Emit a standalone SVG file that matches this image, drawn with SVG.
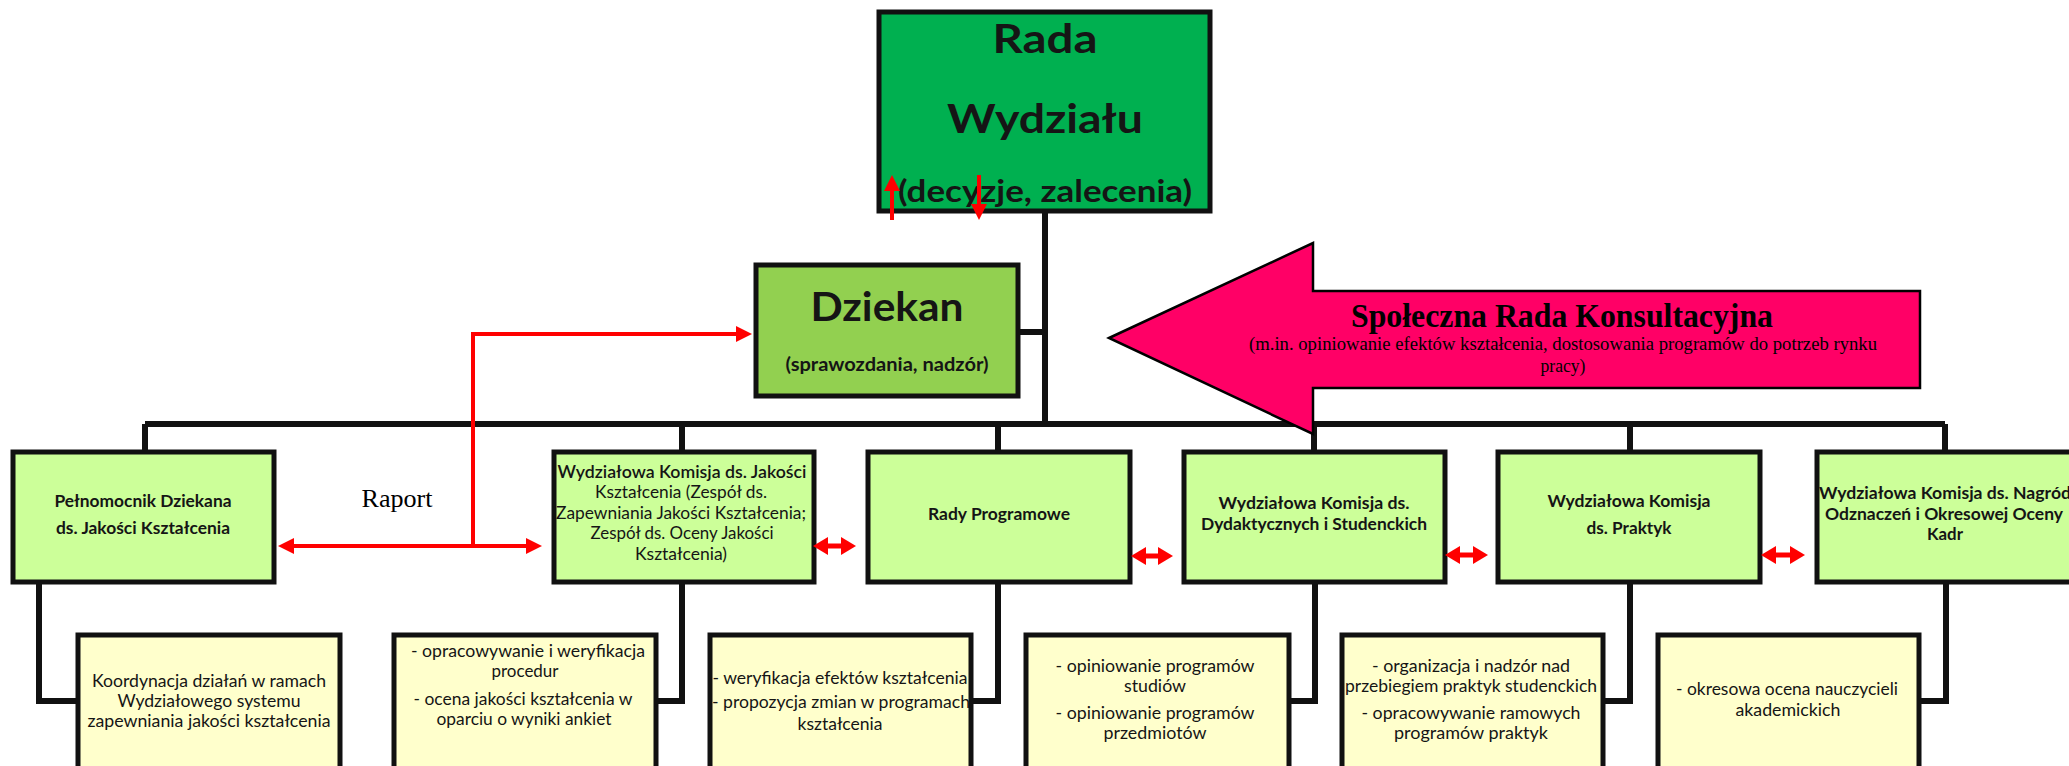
<svg xmlns="http://www.w3.org/2000/svg" width="2069" height="766" viewBox="0 0 2069 766">
<style>
.box{stroke:#111;stroke-width:5}
.rada{fill:#00B050}
.dz{fill:#92D050}
.lvl{fill:#CCFF99}
.sub{fill:#FFFFCC}
.ln{fill:none;stroke:#111;stroke-width:6}
.red{fill:none;stroke:#FF0000;stroke-width:4}
.reds{fill:none;stroke:#FF0000;stroke-width:5}
text{font-family:Lato,"Open Sans","Liberation Sans",sans-serif;fill:#151515;text-anchor:middle}
.big{font-size:40px;font-weight:bold}
.mid{font-size:30px;font-weight:bold}
.ttl{font-size:17px;font-weight:bold}
.txt{font-size:17px}
.serif{font-family:"Liberation Serif","Times New Roman",serif;fill:#000}
</style>
<defs>
<marker id="ah" markerUnits="userSpaceOnUse" markerWidth="16" markerHeight="16" refX="8" refY="8" orient="auto-start-reverse"><path d="M0,0 L16,8 L0,16 z" fill="#FF0000"/></marker>
<marker id="ahs" markerUnits="userSpaceOnUse" markerWidth="15" markerHeight="18" refX="7" refY="9" orient="auto-start-reverse"><path d="M0,0 L15,9 L0,18 z" fill="#FF0000"/></marker>
</defs>

<g id="rada">
<rect class="box rada" x="879" y="12" width="331" height="199"/>
<text class="big" x="1045" y="53" textLength="105" lengthAdjust="spacingAndGlyphs">Rada</text>
<text class="big" x="1045" y="133" font-size="41" textLength="196" lengthAdjust="spacingAndGlyphs">Wydziału</text>
<text class="mid" x="1045" y="202" font-weight="600" textLength="294" lengthAdjust="spacingAndGlyphs">(decyzje, zalecenia)</text>
</g>

<g id="dziekan">
<rect class="box dz" x="756" y="265" width="262" height="131"/>
<text class="big" x="887" y="321" font-size="39" textLength="153" lengthAdjust="spacingAndGlyphs">Dziekan</text>
<text x="887" y="371" font-size="18" font-weight="bold" textLength="203" lengthAdjust="spacingAndGlyphs">(sprawozdania,  nadzór)</text>
</g>

<g id="raport">
<text class="serif" x="397" y="507" font-size="26" textLength="71" lengthAdjust="spacingAndGlyphs">Raport</text>
</g>

<g id="pelnomocnik">
<rect class="box lvl" x="13" y="452" width="261" height="130"/>
<text class="ttl" x="143" y="507" textLength="177" lengthAdjust="spacingAndGlyphs">Pełnomocnik Dziekana</text>
<text class="ttl" x="143" y="534" textLength="174" lengthAdjust="spacingAndGlyphs">ds. Jakości Kształcenia</text>
</g>

<g id="wkj">
<rect class="box lvl" x="554" y="452" width="260" height="130"/>
<text class="txt" x="682" y="478" font-weight="600" textLength="249" lengthAdjust="spacingAndGlyphs">Wydziałowa Komisja ds. Jakości</text>
<text class="txt" x="681" y="498" textLength="172" lengthAdjust="spacingAndGlyphs">Kształcenia (Zespół ds.</text>
<text class="txt" x="681" y="519" textLength="250" lengthAdjust="spacingAndGlyphs">Zapewniania Jakości Kształcenia;</text>
<text class="txt" x="682" y="539" textLength="183" lengthAdjust="spacingAndGlyphs">Zespół ds. Oceny Jakości</text>
<text class="txt" x="681" y="560" textLength="92" lengthAdjust="spacingAndGlyphs">Kształcenia)</text>
</g>

<g id="rady">
<rect class="box lvl" x="868" y="452" width="262" height="130"/>
<text class="ttl" x="999" y="520" textLength="142" lengthAdjust="spacingAndGlyphs">Rady Programowe</text>
</g>

<g id="wkds">
<rect class="box lvl" x="1184" y="452" width="261" height="130"/>
<text class="ttl" x="1314" y="509" textLength="191" lengthAdjust="spacingAndGlyphs">Wydziałowa Komisja ds.</text>
<text class="ttl" x="1314" y="530" textLength="226" lengthAdjust="spacingAndGlyphs">Dydaktycznych i Studenckich</text>
</g>

<g id="praktyk">
<rect class="box lvl" x="1498" y="452" width="262" height="130"/>
<text class="ttl" x="1629" y="507" textLength="163" lengthAdjust="spacingAndGlyphs">Wydziałowa Komisja</text>
<text class="ttl" x="1629" y="534" textLength="85" lengthAdjust="spacingAndGlyphs">ds. Praktyk</text>
</g>

<g id="nagrod">
<rect class="box lvl" x="1817" y="452" width="260" height="130"/>
<text class="ttl" x="1945" y="499" textLength="252" lengthAdjust="spacingAndGlyphs">Wydziałowa Komisja ds. Nagród</text>
<text class="ttl" x="1944" y="520" textLength="238" lengthAdjust="spacingAndGlyphs">Odznaczeń i  Okresowej Oceny</text>
<text class="ttl" x="1945" y="540" textLength="36" lengthAdjust="spacingAndGlyphs">Kadr</text>
</g>

<g id="sub1">
<rect class="box sub" x="78" y="635" width="262" height="150"/>
<text class="txt" x="209" y="687" textLength="234" lengthAdjust="spacingAndGlyphs">Koordynacja działań w ramach</text>
<text class="txt" x="209" y="707" textLength="183" lengthAdjust="spacingAndGlyphs">Wydziałowego systemu</text>
<text class="txt" x="209" y="727" textLength="243" lengthAdjust="spacingAndGlyphs">zapewniania jakości kształcenia</text>
</g>

<g id="sub2">
<rect class="box sub" x="394" y="635" width="262" height="150"/>
<text class="txt" x="528" y="657" textLength="234" lengthAdjust="spacingAndGlyphs">- opracowywanie i weryfikacja</text>
<text class="txt" x="525" y="677" textLength="67" lengthAdjust="spacingAndGlyphs">procedur</text>
<text class="txt" x="523" y="705" textLength="219" lengthAdjust="spacingAndGlyphs">- ocena jakości kształcenia w</text>
<text class="txt" x="524" y="725" textLength="175" lengthAdjust="spacingAndGlyphs">oparciu o wyniki ankiet</text>
</g>

<g id="sub3">
<rect class="box sub" x="710" y="635" width="261" height="150"/>
<text class="txt" x="840" y="684" textLength="255" lengthAdjust="spacingAndGlyphs">-  weryfikacja efektów kształcenia</text>
<text class="txt" x="841" y="708" textLength="258" lengthAdjust="spacingAndGlyphs">- propozycja zmian w programach</text>
<text class="txt" x="840" y="730" textLength="85" lengthAdjust="spacingAndGlyphs">kształcenia</text>
</g>

<g id="sub4">
<rect class="box sub" x="1026" y="635" width="263" height="150"/>
<text class="txt" x="1155" y="672" textLength="199" lengthAdjust="spacingAndGlyphs">- opiniowanie programów</text>
<text class="txt" x="1155" y="692" textLength="62" lengthAdjust="spacingAndGlyphs">studiów</text>
<text class="txt" x="1155" y="719" textLength="199" lengthAdjust="spacingAndGlyphs">- opiniowanie programów</text>
<text class="txt" x="1155" y="739" textLength="103" lengthAdjust="spacingAndGlyphs">przedmiotów</text>
</g>

<g id="sub5">
<rect class="box sub" x="1342" y="635" width="261" height="150"/>
<text class="txt" x="1471" y="672" textLength="198" lengthAdjust="spacingAndGlyphs">- organizacja i nadzór nad</text>
<text class="txt" x="1471" y="692" textLength="252" lengthAdjust="spacingAndGlyphs">przebiegiem praktyk studenckich</text>
<text class="txt" x="1471" y="719" textLength="219" lengthAdjust="spacingAndGlyphs">- opracowywanie ramowych</text>
<text class="txt" x="1471" y="739" textLength="154" lengthAdjust="spacingAndGlyphs">programów praktyk</text>
</g>

<g id="sub6">
<rect class="box sub" x="1658" y="635" width="261" height="150"/>
<text class="txt" x="1787" y="695" textLength="222" lengthAdjust="spacingAndGlyphs">- okresowa ocena nauczycieli</text>
<text class="txt" x="1788" y="716" textLength="105" lengthAdjust="spacingAndGlyphs">akademickich</text>
</g>

<g id="connectors">
<path class="ln" d="M1045,213 V424 M1020,332 H1045 M145,424 H1945 M145,424 V450 M682,424 V450 M998,424 V450 M1314,424 V450 M1630,424 V450 M1945,424 V450"/>
<path class="ln" d="M39,584 V701 H76 M682,584 V701 H658 M998,584 V701 H973 M1315,584 V701 H1291 M1630,584 V701 H1605 M1946,584 V701 H1921"/>
<path class="red" d="M892,220 V183" marker-end="url(#ah)"/>
<path class="red" d="M979,175 V212" marker-end="url(#ah)"/>
<path class="red" d="M286,546 H534" marker-start="url(#ah)" marker-end="url(#ah)"/>
<path class="red" d="M473,546 V334 H744" marker-end="url(#ah)"/>
<path class="reds" d="M821,546 H848" marker-start="url(#ahs)" marker-end="url(#ahs)"/>
<path class="reds" d="M1139,556 H1165" marker-start="url(#ahs)" marker-end="url(#ahs)"/>
<path class="reds" d="M1453,555 H1480" marker-start="url(#ahs)" marker-end="url(#ahs)"/>
<path class="reds" d="M1769,555 H1797" marker-start="url(#ahs)" marker-end="url(#ahs)"/>
</g>

<g id="spoleczna">
<polygon points="1109,338 1313,243 1313,291 1920,291 1920,388 1313,388 1313,434" fill="#FF0066" stroke="#000" stroke-width="2.5"/>
<text class="serif" x="1562" y="327" font-size="33" font-weight="bold" textLength="422" lengthAdjust="spacingAndGlyphs">Społeczna Rada Konsultacyjna</text>
<text class="serif" x="1563" y="350" font-size="19" textLength="628" lengthAdjust="spacingAndGlyphs">(m.in. opiniowanie efektów kształcenia, dostosowania programów do potrzeb rynku</text>
<text class="serif" x="1563" y="372" font-size="19" textLength="45" lengthAdjust="spacingAndGlyphs">pracy)</text>
</g>
</svg>
